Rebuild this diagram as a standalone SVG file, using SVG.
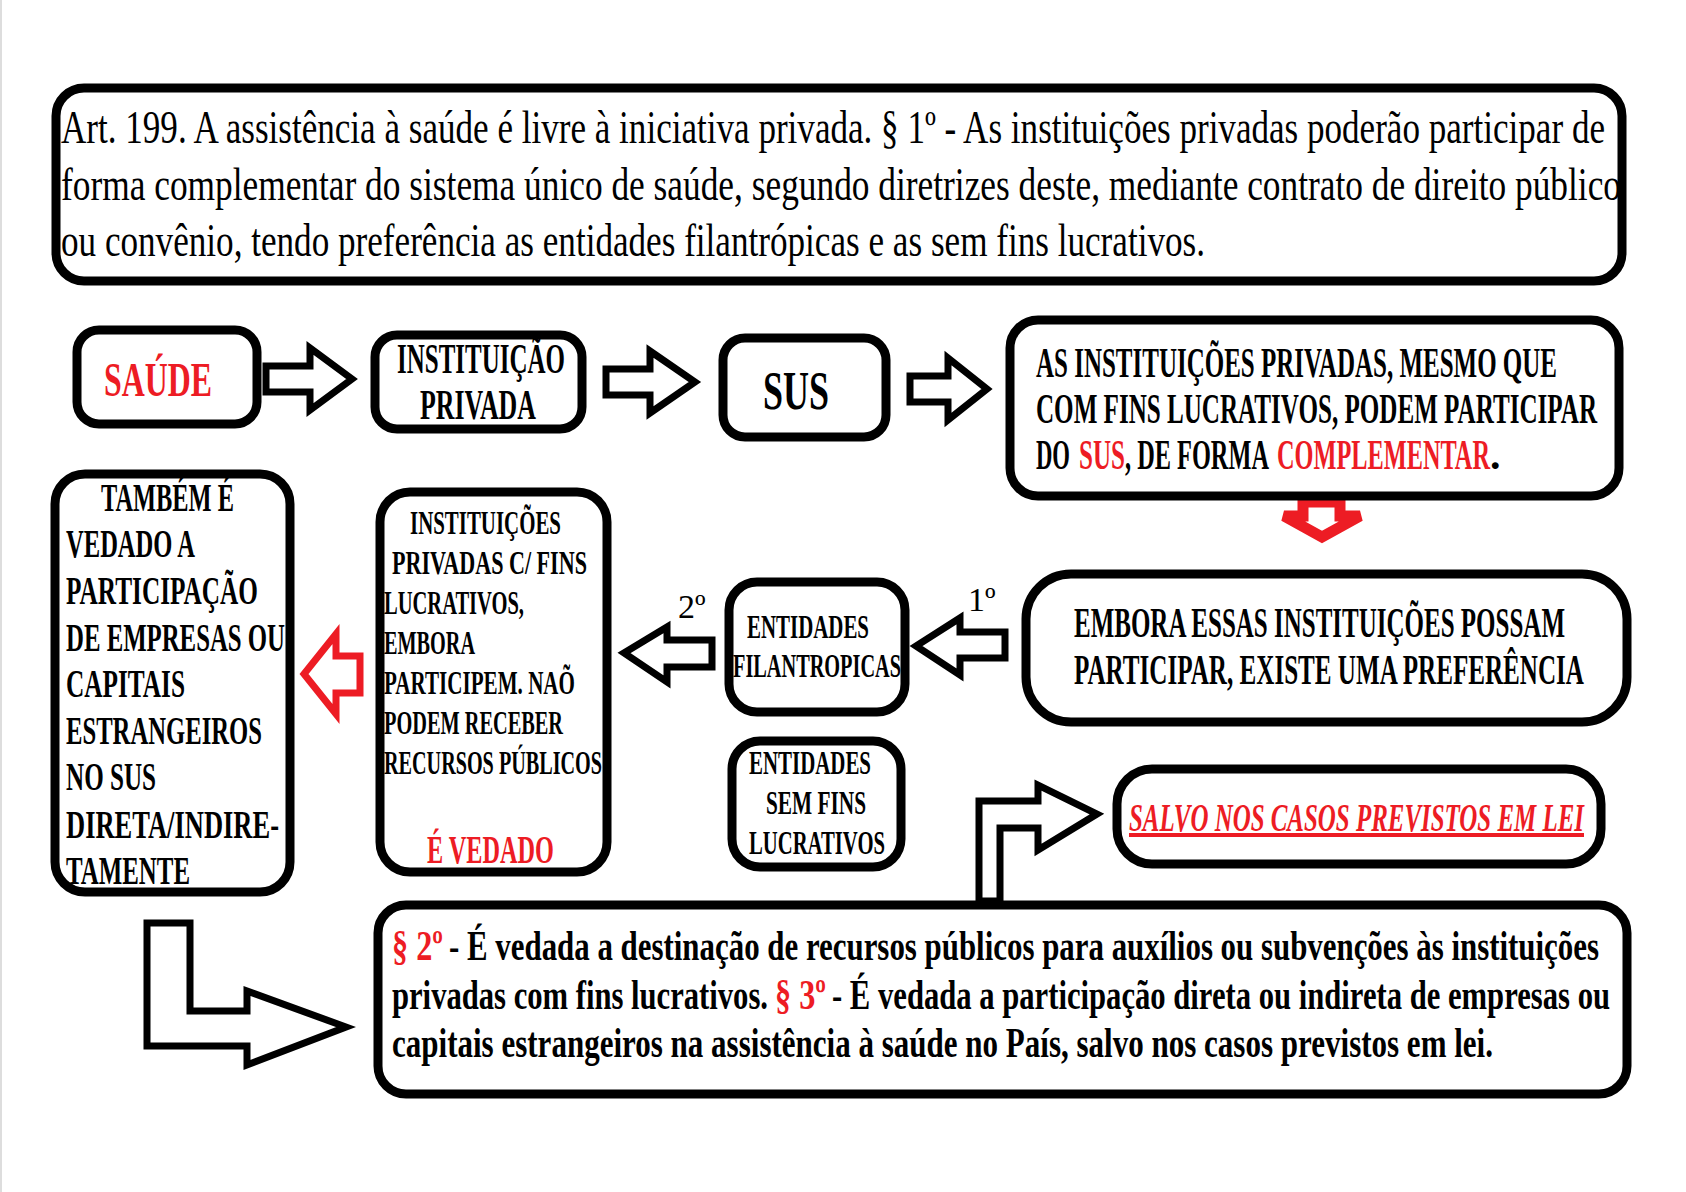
<svg xmlns="http://www.w3.org/2000/svg" width="1686" height="1192" viewBox="0 0 1686 1192">
<style>
.box{fill:#fff;stroke:#000;stroke-width:9}
.arr{fill:#fff;stroke:#000;stroke-width:7;stroke-linejoin:miter}
.rarr{fill:#fff;stroke:#ed1c24;stroke-width:7}
.t{font-family:"Liberation Serif","DejaVu Serif",serif;fill:#000}
.b{font-weight:bold}
.red{fill:#ed1c24}
</style>
<rect x="0" y="0" width="1686" height="1192" fill="#fff"/>
<line x1="1" y1="0" x2="1" y2="1192" stroke="#ddd" stroke-width="2"/>

<g id="connectors">
  <path class="arr" d="M266,366 H310 V348 L352,379 L310,410 V392 H266 Z"/>
  <path class="arr" d="M606,369 H650 V351 L695,382 L650,413 V395 H606 Z"/>
  <path class="arr" d="M910,376 H948 V358 L987,389 L948,420 V402 H910 Z"/>
  <path class="rarr" style="stroke-width:11" d="M1303,502 H1340 V516 H1360 L1322,537 L1284,516 H1303 Z"/>
  <path class="arr" d="M1005,632 H960 V618 L916,646 L960,675 V658 H1005 Z"/>
  <path class="arr" d="M712,640 H667 V627 L624,653 L667,682 V667 H712 Z"/>
  <path class="rarr" d="M360,656 H336 V634 L304,674 L336,714 V693 H360 Z"/>
  <path class="arr" d="M979,901 V801 H1038 V785 L1097,814 L1038,850 V828 H1000 V901 Z"/>
  <path class="arr" d="M147,923 H190 V1011 H247 V991 L346,1027 L247,1065 V1046 H147 Z"/>
  <text class="t" x="678" y="618" font-size="34">2º</text>
  <text class="t" x="968" y="611" font-size="34">1º</text>
</g>

<g id="n-art199">
  <rect class="box" x="56" y="88" width="1566" height="193" rx="28"/>
  <text class="t" x="61" y="143" font-size="46" textLength="1544" lengthAdjust="spacingAndGlyphs">Art. 199. A assistência à saúde é livre à iniciativa privada. § 1º - As instituições privadas poderão participar de</text>
  <text class="t" x="61" y="200" font-size="46" textLength="1560" lengthAdjust="spacingAndGlyphs">forma complementar do sistema único de saúde, segundo diretrizes deste, mediante contrato de direito público</text>
  <text class="t" x="61" y="256" font-size="46" textLength="1144" lengthAdjust="spacingAndGlyphs">ou convênio, tendo preferência as entidades filantrópicas e as sem fins lucrativos.</text>
</g>

<g id="n-saude">
  <rect class="box" x="77" y="330" width="180" height="94" rx="22"/>
  <text class="t b red" x="104" y="396" font-size="48" textLength="108" lengthAdjust="spacingAndGlyphs">SAÚDE</text>
</g>

<g id="n-instituicao">
  <rect class="box" x="375" y="335" width="207" height="94" rx="22"/>
  <text class="t b" x="397" y="373" font-size="42" textLength="168" lengthAdjust="spacingAndGlyphs">INSTITUIÇÃO</text>
  <text class="t b" x="420" y="419" font-size="42" textLength="116" lengthAdjust="spacingAndGlyphs">PRIVADA</text>
</g>

<g id="n-sus">
  <rect class="box" x="723" y="338" width="163" height="99" rx="22"/>
  <text class="t b" x="763" y="409" font-size="54" textLength="66" lengthAdjust="spacingAndGlyphs">SUS</text>
</g>

<g id="n-complementar">
  <rect class="box" x="1010" y="320" width="609" height="176" rx="28"/>
  <text class="t b" x="1036" y="377" font-size="42" textLength="521" lengthAdjust="spacingAndGlyphs">AS INSTITUIÇÕES PRIVADAS, MESMO QUE</text>
  <text class="t b" x="1036" y="423" font-size="42" textLength="561" lengthAdjust="spacingAndGlyphs">COM FINS LUCRATIVOS, PODEM PARTICIPAR</text>
  <text class="t b" x="1036" y="469" font-size="42" textLength="34" lengthAdjust="spacingAndGlyphs">DO</text>
  <text class="t b red" x="1079" y="469" font-size="42" textLength="46" lengthAdjust="spacingAndGlyphs">SUS</text>
  <text class="t b" x="1125" y="469" font-size="42" textLength="144" lengthAdjust="spacingAndGlyphs">, DE FORMA</text>
  <text class="t b red" x="1277" y="469" font-size="42" textLength="213" lengthAdjust="spacingAndGlyphs">COMPLEMENTAR</text>
  <text class="t b" x="1490" y="469" font-size="42">.</text>
</g>

<g id="n-tambem">
  <rect class="box" x="55" y="474" width="235" height="418" rx="30"/>
  <g class="t b" font-size="40">
    <text x="101" y="511" textLength="133" lengthAdjust="spacingAndGlyphs">TAMBÉM É</text>
    <text x="66" y="557" textLength="129" lengthAdjust="spacingAndGlyphs">VEDADO A</text>
    <text x="66" y="604" textLength="192" lengthAdjust="spacingAndGlyphs">PARTICIPAÇÃO</text>
    <text x="66" y="651" textLength="219" lengthAdjust="spacingAndGlyphs">DE EMPRESAS OU</text>
    <text x="66" y="697" textLength="119" lengthAdjust="spacingAndGlyphs">CAPITAIS</text>
    <text x="66" y="744" textLength="196" lengthAdjust="spacingAndGlyphs">ESTRANGEIROS</text>
    <text x="66" y="790" textLength="90" lengthAdjust="spacingAndGlyphs">NO SUS</text>
    <text x="66" y="838" textLength="213" lengthAdjust="spacingAndGlyphs">DIRETA/INDIRE-</text>
    <text x="66" y="884" textLength="124" lengthAdjust="spacingAndGlyphs">TAMENTE</text>
  </g>
</g>

<g id="n-instituicoes">
  <rect class="box" x="380" y="492" width="227" height="380" rx="30"/>
  <g class="t b" font-size="33">
    <text x="410" y="534" textLength="151" lengthAdjust="spacingAndGlyphs">INSTITUIÇÕES</text>
    <text x="392" y="574" textLength="195" lengthAdjust="spacingAndGlyphs">PRIVADAS C/ FINS</text>
    <text x="384" y="614" textLength="140" lengthAdjust="spacingAndGlyphs">LUCRATIVOS,</text>
    <text x="384" y="654" textLength="91" lengthAdjust="spacingAndGlyphs">EMBORA</text>
    <text x="384" y="694" textLength="191" lengthAdjust="spacingAndGlyphs">PARTICIPEM. NAÕ</text>
    <text x="384" y="734" textLength="179" lengthAdjust="spacingAndGlyphs">PODEM RECEBER</text>
    <text x="384" y="774" textLength="218" lengthAdjust="spacingAndGlyphs">RECURSOS PÚBLICOS</text>
  </g>
  <text class="t b red" x="427" y="863" font-size="40" textLength="127" lengthAdjust="spacingAndGlyphs">É VEDADO</text>
</g>

<g id="n-filantropicas">
  <rect class="box" x="729" y="582" width="176" height="130" rx="28"/>
  <text class="t b" x="747" y="638" font-size="33" textLength="122" lengthAdjust="spacingAndGlyphs">ENTIDADES</text>
  <text class="t b" x="733" y="677" font-size="33" textLength="168" lengthAdjust="spacingAndGlyphs">FILANTROPICAS</text>
</g>

<g id="n-embora">
  <rect class="box" x="1026" y="574" width="601" height="148" rx="45"/>
  <text class="t b" x="1074" y="637" font-size="42" textLength="491" lengthAdjust="spacingAndGlyphs">EMBORA ESSAS INSTITUIÇÕES POSSAM</text>
  <text class="t b" x="1074" y="684" font-size="42" textLength="510" lengthAdjust="spacingAndGlyphs">PARTICIPAR, EXISTE UMA PREFERÊNCIA</text>
</g>

<g id="n-semfins">
  <rect class="box" x="732" y="741" width="169" height="126" rx="28"/>
  <text class="t b" x="749" y="774" font-size="33" textLength="122" lengthAdjust="spacingAndGlyphs">ENTIDADES</text>
  <text class="t b" x="766" y="814" font-size="33" textLength="100" lengthAdjust="spacingAndGlyphs">SEM FINS</text>
  <text class="t b" x="749" y="854" font-size="33" textLength="136" lengthAdjust="spacingAndGlyphs">LUCRATIVOS</text>
</g>

<g id="n-salvo">
  <rect class="box" x="1117" y="769" width="484" height="95" rx="35"/>
  <text class="t b red" x="1129" y="831" font-size="40" font-style="italic" text-decoration="underline" textLength="455" lengthAdjust="spacingAndGlyphs">SALVO NOS CASOS PREVISTOS EM LEI</text>
</g>

<g id="n-paragrafos">
  <rect class="box" x="378" y="905" width="1249" height="189" rx="28"/>
  <text class="t b red" x="392" y="960" font-size="42" textLength="51" lengthAdjust="spacingAndGlyphs">§ 2º</text>
  <text class="t b" x="449" y="960" font-size="42" textLength="1150" lengthAdjust="spacingAndGlyphs">- É vedada a destinação de recursos públicos para auxílios ou subvenções às instituições</text>
  <text class="t b" x="392" y="1009" font-size="42" textLength="376" lengthAdjust="spacingAndGlyphs">privadas com fins lucrativos.</text>
  <text class="t b red" x="775" y="1009" font-size="42" textLength="51" lengthAdjust="spacingAndGlyphs">§ 3º</text>
  <text class="t b" x="832" y="1009" font-size="42" textLength="778" lengthAdjust="spacingAndGlyphs">- É vedada a participação direta ou indireta de empresas ou</text>
  <text class="t b" x="392" y="1057" font-size="42" textLength="1101" lengthAdjust="spacingAndGlyphs">capitais estrangeiros na assistência à saúde no País, salvo nos casos previstos em lei.</text>
</g>
</svg>
